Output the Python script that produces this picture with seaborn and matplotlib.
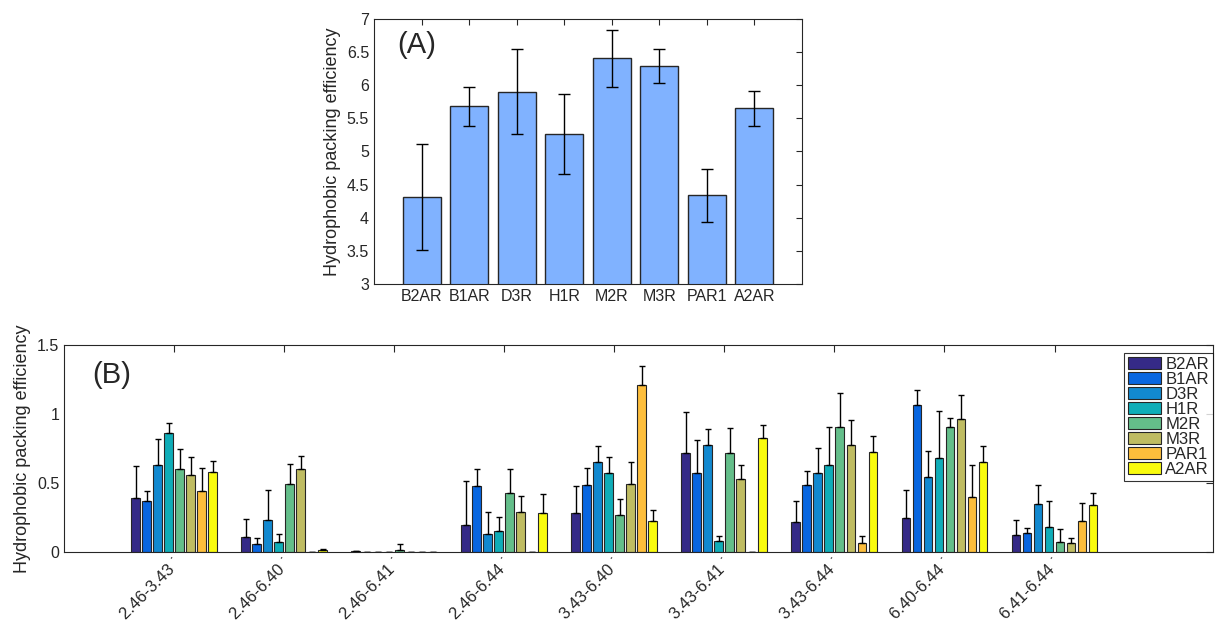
import numpy as np
import pandas as pd
import matplotlib
matplotlib.use("Agg")
import matplotlib.pyplot as plt
import matplotlib.transforms as mtransforms
import seaborn as sns

# receptors (panel A categories and panel B series)
receptors = ["B2AR", "B1AR", "D3R", "H1R", "M2R", "M3R", "PAR1", "A2AR"]

# panel A: overall hydrophobic packing efficiency
overall_mean = [4.32, 5.68, 5.90, 5.26, 6.41, 6.29, 4.34, 5.65]
overall_err = [0.80, 0.30, 0.64, 0.60, 0.43, 0.25, 0.40, 0.27]

# panel B: helix pairs
pairs = ["2.46-3.43 ˙", "2.46-6.40 ˙", "2.46-6.41 ˙", "2.46-6.44 ˙", "3.43-6.40 ˙",
         "3.43-6.41 ˙", "3.43-6.44 ˙", "6.40-6.44 ˙", "6.41-6.44 ˙"]

b2ar = [0.39, 0.11, 0.005, 0.193, 0.28, 0.715, 0.215, 0.249, 0.123]
b1ar = [0.37, 0.056, 0.002, 0.476, 0.483, 0.572, 0.483, 1.063, 0.135]
d3r = [0.63, 0.234, 0.002, 0.13, 0.655, 0.775, 0.575, 0.543, 0.348]
h1r = [0.86, 0.072, 0.002, 0.15, 0.572, 0.082, 0.633, 0.679, 0.184]
m2r = [0.60, 0.49, 0.017, 0.425, 0.266, 0.72, 0.903, 0.903, 0.072]
m3r = [0.56, 0.60, 0.002, 0.29, 0.493, 0.529, 0.778, 0.961, 0.063]
par1 = [0.44, 0.003, 0.002, 0.002, 1.208, 0.003, 0.063, 0.396, 0.227]
a2ar = [0.58, 0.015, 0.002, 0.283, 0.227, 0.824, 0.722, 0.652, 0.338]

b2ar_err = [0.23, 0.126, 0.0, 0.324, 0.196, 0.299, 0.157, 0.198, 0.109]
b1ar_err = [0.07, 0.045, 0.0, 0.125, 0.128, 0.24, 0.104, 0.111, 0.041]
d3r_err = [0.19, 0.215, 0.0, 0.162, 0.111, 0.119, 0.176, 0.191, 0.138]
h1r_err = [0.077, 0.061, 0.0, 0.101, 0.116, 0.036, 0.275, 0.345, 0.186]
m2r_err = [0.15, 0.15, 0.043, 0.174, 0.12, 0.179, 0.249, 0.07, 0.092]
m3r_err = [0.13, 0.096, 0.0, 0.118, 0.157, 0.101, 0.176, 0.179, 0.041]
par1_err = [0.17, 0.0, 0.0, 0.0, 0.14, 0.0, 0.055, 0.237, 0.126]
a2ar_err = [0.08, 0.005, 0.0, 0.14, 0.075, 0.094, 0.116, 0.118, 0.09]

series = [b2ar, b1ar, d3r, h1r, m2r, m3r, par1, a2ar]
series_err = [b2ar_err, b1ar_err, d3r_err, h1r_err, m2r_err, m3r_err, par1_err, a2ar_err]

colors = ["#352a87", "#0866e0", "#1289d0", "#0fadb8", "#64be8a", "#bfbc62", "#fdbe3c", "#f9fb0e"]

sns.set_style("white")
plt.rcParams["font.family"] = ["Liberation Sans", "DejaVu Sans"]
plt.rcParams["axes.edgecolor"] = "#262626"
plt.rcParams["xtick.color"] = "#262626"
plt.rcParams["ytick.color"] = "#262626"

fig = plt.figure(figsize=(12.17, 6.24), dpi=100)

# ---- panel A
ax1 = fig.add_axes([0.3073, 0.5449, 0.3517, 0.4247])
dfa = pd.DataFrame({"receptor": receptors, "value": overall_mean})
sns.barplot(data=dfa, x="receptor", y="value", color="#80b2ff", saturation=1,
            width=0.8, edgecolor="#262626", linewidth=1, errorbar=None, ax=ax1)
xs = [p.get_x() + p.get_width() / 2 for p in ax1.patches]
ax1.errorbar(xs, overall_mean, yerr=overall_err, fmt="none", ecolor="k",
             elinewidth=1, capsize=4, capthick=1)
ax1.set_xlim(-1, 8)
ax1.set_ylim(3, 7)
ax1.set_yticks(np.arange(3, 7.01, 0.5))
ax1.set_yticklabels(["3", "3.5", "4", "4.5", "5", "5.5", "6", "6.5", "7"])
ax1.set_xlabel("")
ax1.set_ylabel("Hydrophobic packing efficiency", fontsize=13)
ax1.tick_params(direction="in", top=True, right=True, labelsize=11.5, length=4)
ax1.text(0.055, 0.9, "(A)", transform=ax1.transAxes, fontsize=21, va="center")

# ---- panel B
ax2 = fig.add_axes([0.0526, 0.1154, 0.9441, 0.3317])
rows = []
for r, vals in zip(receptors, series):
    for p, v in zip(pairs, vals):
        rows.append({"pair": p, "receptor": r, "value": v})
dfb = pd.DataFrame(rows)
sns.barplot(data=dfb, x="pair", y="value", hue="receptor", hue_order=receptors,
            palette=colors, saturation=1, gap=0.2, edgecolor="#262626",
            linewidth=0.8, errorbar=None, ax=ax2)
for cont, vals, errs in zip(ax2.containers, series, series_err):
    bx = [b.get_x() + b.get_width() / 2 for b in cont]
    ax2.errorbar(bx, vals, yerr=[np.zeros(len(errs)), errs], fmt="none",
                 ecolor="k", elinewidth=1, capsize=2.5, capthick=1)
ax2.set_xlim(-1, 9.44)
ax2.set_ylim(0, 1.5)
ax2.set_yticks([0, 0.5, 1, 1.5])
ax2.set_yticklabels(["0", "0.5", "1", "1.5"])
ax2.set_xlabel("")
ax2.set_ylabel("Hydrophobic packing efficiency", fontsize=13)
ax2.set_xticks(range(len(pairs)))
ax2.set_xticklabels(pairs, rotation=45, ha="right", rotation_mode="anchor", fontsize=12)
shift = mtransforms.ScaledTranslation(0.07, 0.05, fig.dpi_scale_trans)
for lab in ax2.get_xticklabels():
    lab.set_transform(lab.get_transform() + shift)
ax2.tick_params(axis="y", labelsize=11.5)
ax2.tick_params(axis="x", pad=2)
ax2.tick_params(direction="in", top=True, right=True, length=5)
ax2.text(0.025, 0.855, "(B)", transform=ax2.transAxes, fontsize=21, va="center")
leg = ax2.legend(loc="upper right", bbox_to_anchor=(1.0, 0.962), borderaxespad=0,
                 fontsize=12, frameon=True, fancybox=False, edgecolor="k",
                 handlelength=2.0, handleheight=0.7, handletextpad=0.25,
                 labelspacing=0.0, borderpad=0.25)
leg.get_frame().set_linewidth(0.8)

fig.savefig("out.png", dpi=100)
